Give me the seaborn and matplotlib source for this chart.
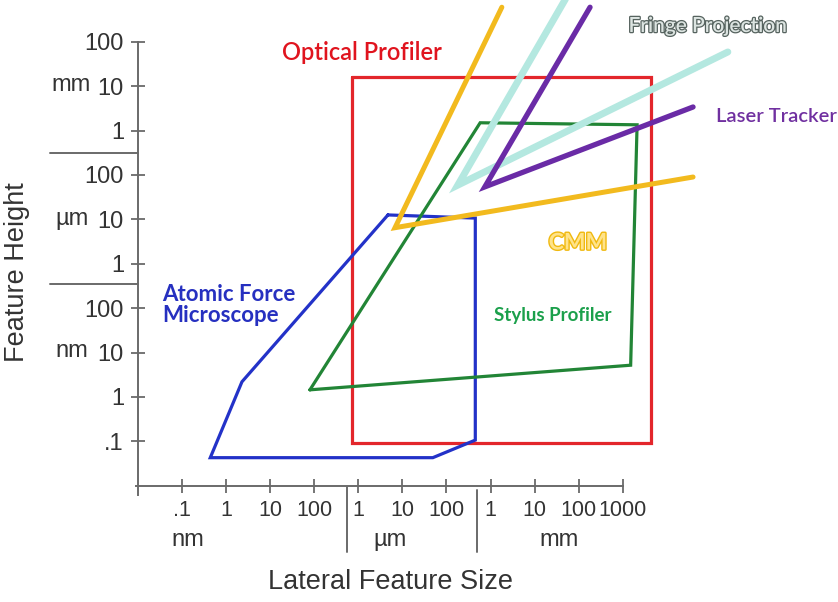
import matplotlib
matplotlib.use("Agg")
import matplotlib.pyplot as plt
import matplotlib.patheffects as pe
from matplotlib.ticker import FixedLocator, FixedFormatter, NullLocator
import seaborn as sns

# all sizes in nm (lateral size, feature height)
tick_vals_x = [1e-1, 1, 1e1, 1e2, 1e3, 1e4, 1e5, 1e6, 1e7, 1e8, 1e9]
tick_labels_x = [".1", "1", "10", "100", "1", "10", "100", "1", "10", "100", "1000"]
tick_vals_y = [1e-1, 1, 1e1, 1e2, 1e3, 1e4, 1e5, 1e6, 1e7, 1e8]
tick_labels_y = [".1", "1", "10", "100", "1", "10", "100", "1", "10", "100"]

optical_x = [7.2e2, 4.4e9, 4.4e9, 7.2e2, 7.2e2]
optical_y = [1.6e7, 1.6e7, 0.09, 0.09, 1.6e7]

afm_x = [4.7e3, 4.5e5, 4.5e5, 4.9e4, 0.44, 2.3, 4.7e3]
afm_y = [1.26e4, 1.07e4, 0.107, 0.043, 0.043, 2.2, 1.26e4]

stylus_x = [80, 5.8e5, 2.1e9, 1.5e9, 80]
stylus_y = [1.45, 1.5e6, 1.35e6, 5.2, 1.45]

cmm_x = [1.8e6, 6.8e3, 3.9e10]
cmm_y = [6.0e8, 6.5e3, 9.0e4]

fringe_x = [6.9e7, 1.8e5, 2.4e11]
fringe_y = [1.6e9, 5.9e4, 5.9e7]

laser_x = [1.8e8, 7.4e5, 3.9e10]
laser_y = [6.0e8, 5.4e4, 3.4e6]

W, H = 838, 602


def px(x, y):
    # pixel position -> axes fraction (axes fill the whole figure)
    return x / W, 1 - y / H


sns.set_theme(style="white")
plt.rcParams["font.family"] = ["Liberation Sans", "DejaVu Sans"]

fig = plt.figure(figsize=(W / 100, H / 100), dpi=100)
ax = fig.add_axes([0, 0, 1, 1])
ax.set_xscale("log")
ax.set_yscale("log")
ax.set_xlim(10 ** -5.125, 10 ** 13.878)
ax.set_ylim(10 ** -4.617, 10 ** 8.941)

shapes = [
    (optical_x, optical_y, "#E3262B", 2.3),
    (afm_x, afm_y, "#2332C8", 2.3),
    (stylus_x, stylus_y, "#228536", 2.3),
    (cmm_x, cmm_y, "#F2BA1E", 3.6),
    (fringe_x, fringe_y, "#B4E8E0", 5.0),
    (laser_x, laser_y, "#6A2BA6", 3.8),
]
for xs, ys, col, lw in shapes:
    sns.lineplot(x=xs, y=ys, sort=False, estimator=None, color=col,
                 linewidth=lw, ax=ax, solid_capstyle="round",
                 solid_joinstyle="miter")

# axes
for side in ["top", "right"]:
    ax.spines[side].set_visible(False)
ax.spines["left"].set_position(("data", 1e-2))
ax.spines["bottom"].set_position(("data", 1e-2))
ax.spines["left"].set_bounds(10 ** -2.2, 1e8)
ax.spines["bottom"].set_bounds(10 ** -2.05, 1e9)
for side in ["left", "bottom"]:
    ax.spines[side].set_color("#6a6a6a")
    ax.spines[side].set_linewidth(1.4)

ax.xaxis.set_major_locator(FixedLocator(tick_vals_x))
ax.xaxis.set_major_formatter(FixedFormatter(tick_labels_x))
ax.yaxis.set_major_locator(FixedLocator(tick_vals_y))
ax.yaxis.set_major_formatter(FixedFormatter(tick_labels_y))
ax.xaxis.set_minor_locator(NullLocator())
ax.yaxis.set_minor_locator(NullLocator())
ax.tick_params(bottom=True, left=True, direction="inout", length=10,
               width=1.3, color="#6a6a6a", labelcolor="#333333")
ax.tick_params(axis="y", pad=5, labelsize=17)
ax.tick_params(axis="x", pad=5, labelsize=15.5)

# unit separators
sep = dict(color="#6a6a6a", linewidth=1.4, clip_on=False)
ax.plot([1e-4, 1e-2], [10 ** 5.5, 10 ** 5.5], **sep)
ax.plot([1e-4, 1e-2], [10 ** 2.55, 10 ** 2.55], **sep)
ax.plot([10 ** 2.74, 10 ** 2.74], [10 ** -2.03, 10 ** -3.5], **sep)
ax.plot([10 ** 5.69, 10 ** 5.69], [10 ** -2.1, 10 ** -3.5], **sep)

unit = dict(fontsize=17, color="#333333", ha="center", va="center",
            transform=ax.transAxes)
ax.text(*px(71, 85), "mm", **unit)
ax.text(*px(72, 219), "µm", **unit)
ax.text(*px(72, 351), "nm", **unit)
ax.text(*px(188, 540), "nm", **unit)
ax.text(*px(390, 540), "µm", **unit)
ax.text(*px(559, 540), "mm", **unit)

ax.text(*px(390, 582), "Lateral Feature Size", fontsize=19.5, color="#333333",
        ha="center", va="center", transform=ax.transAxes)
ax.text(*px(17, 272), "Feature Height", fontsize=19.5, color="#333333",
        ha="center", va="center", rotation=90, transform=ax.transAxes)

# instrument labels
lab = dict(va="center", transform=ax.transAxes, family=["Lato", "DejaVu Sans"])
ax.text(*px(362, 52), "Optical Profiler", fontsize=17, color="#E0141E",
        fontweight="semibold", ha="center", **lab)
ax.text(*px(162, 305), "Atomic Force\nMicroscope", fontsize=16,
        color="#2630C0", fontweight="bold", linespacing=1.05, ha="left", **lab)
ax.text(*px(553, 315), "Stylus Profiler", fontsize=13.5, color="#1BA04B",
        fontweight="bold", ha="center", **lab)
ax.text(*px(776, 116), "Laser Tracker", fontsize=14.5, color="#7030A0",
        fontweight="semibold", ha="center", **lab)
ax.text(*px(578, 243), "CMM", fontsize=16.5, color="#FFE38A", fontweight="bold",
        ha="center",
        path_effects=[pe.withStroke(linewidth=2, foreground="#F0B90F")], **lab)
ax.text(*px(708, 26), "Fringe Projection", fontsize=15, color="#DCE4E1",
        fontweight="semibold", ha="center",
        path_effects=[pe.withStroke(linewidth=1.8, foreground="#56635F")], **lab)

fig.savefig("out.png", dpi=100)
